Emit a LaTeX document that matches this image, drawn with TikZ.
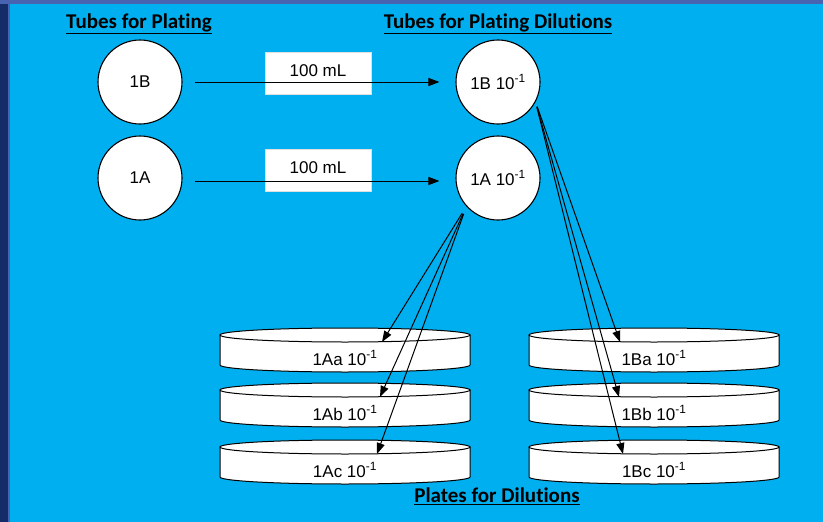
\documentclass[tikz,border=0pt]{standalone}
\usepackage{fontspec}
\setmainfont{Carlito}[Ligatures=NoCommon]
\newfontfamily\lblfont{Liberation Sans}
\usetikzlibrary{arrows.meta,positioning}

\definecolor{navyband}{RGB}{20,44,104}
\definecolor{edgeband}{RGB}{72,100,176}
\definecolor{skyfill}{RGB}{0,175,239}

\newcommand{\lbltext}{\lblfont\fontsize{17}{20}\selectfont}
\newcommand{\headtext}{\bfseries\fontsize{21}{24}\selectfont}

% plate: name, x, y of top rim centre, label
\newcommand{\plate}[4]{%
  \filldraw[fill=white, line width=1pt] (#2-125,#3) -- (#2-125,#3+30)
    arc[start angle=180, end angle=0, x radius=125, y radius=7] -- (#2+125,#3) -- cycle;
  \filldraw[fill=white, line width=1pt] (#2,#3) ellipse [x radius=125, y radius=7];
  \coordinate (#1-top) at (#2,#3);
  \node[platelbl] (#1) at (#2,#3+23) {#4};
}

\begin{document}
\begin{tikzpicture}[x=1pt, y=-1pt,
    tube/.style = {draw, circle, fill=white, minimum size=84pt, inner sep=0pt, line width=1.1pt, font=\lbltext},
    volbox/.style = {fill=white, draw=gray!25, minimum width=106pt, minimum height=42pt, inner sep=0pt, font=\lbltext},
    platelbl/.style = {inner sep=1pt, font=\lbltext},
    head/.style = {inner sep=0pt, font=\headtext},
    arr/.style = {-{Triangle[length=11pt, width=8pt]}, line width=1pt}]
    \useasboundingbox (0,0) rectangle (823,522);
    % background
    \fill[navyband] (0,0) rectangle (823,522);
    \fill[edgeband] (0,0) rectangle (823,4);
    \fill[edgeband] (8,4) rectangle (10,522);
    \fill[skyfill] (10,4) rectangle (823,522);

    % headings
    \node[head] (h1) at (139,24) {\underline{Tubes for Plating}};
    \node[head] (h2) at (498,24) {\underline{Tubes for Plating Dilutions}};
    \node[head] (h3) at (497,496) {\underline{Plates for Dilutions}};

    % tubes
    \node[tube] (t1B) at (140,82) {1B};
    \node[tube] (t1A) at (140,178) {1A};
    \node[tube] (d1B) at (498,82) {1B 10\textsuperscript{-1}};
    \node[tube] (d1A) at (498,178) {1A 10\textsuperscript{-1}};

    % volume boxes
    \node[volbox] (v1) at (318,73) {\raisebox{4pt}{100 mL}};
    \node[volbox] (v2) at (318,170) {\raisebox{4pt}{100 mL}};

    % plates
    \foreach \n/\yy in {a/335, b/390, c/447} {
        \plate{A\n}{345}{\yy}{1A\n\ 10\textsuperscript{-1}}
        \plate{B\n}{654}{\yy}{1B\n\ 10\textsuperscript{-1}}
    }

    % transfers
    \draw[arr, shorten <=12pt, shorten >=16pt] (t1B) -- (d1B);
    \draw[arr, shorten <=12pt, shorten >=16pt] ([yshift=-3pt]t1A.east) -- ([yshift=-3pt]d1A.west);
    \foreach \n/\dx in {a/37, b/35, c/32}
        \draw[arr, shorten <=8pt] (d1A.222) -- ([xshift=\dx pt, yshift=-7pt]A\n-top);
    \foreach \n/\dx in {a/-34, b/-35, c/-31}
        \draw[arr, shorten <=5pt] (d1B.332) -- ([xshift=\dx pt, yshift=-7pt]B\n-top);
\end{tikzpicture}
\end{document}
